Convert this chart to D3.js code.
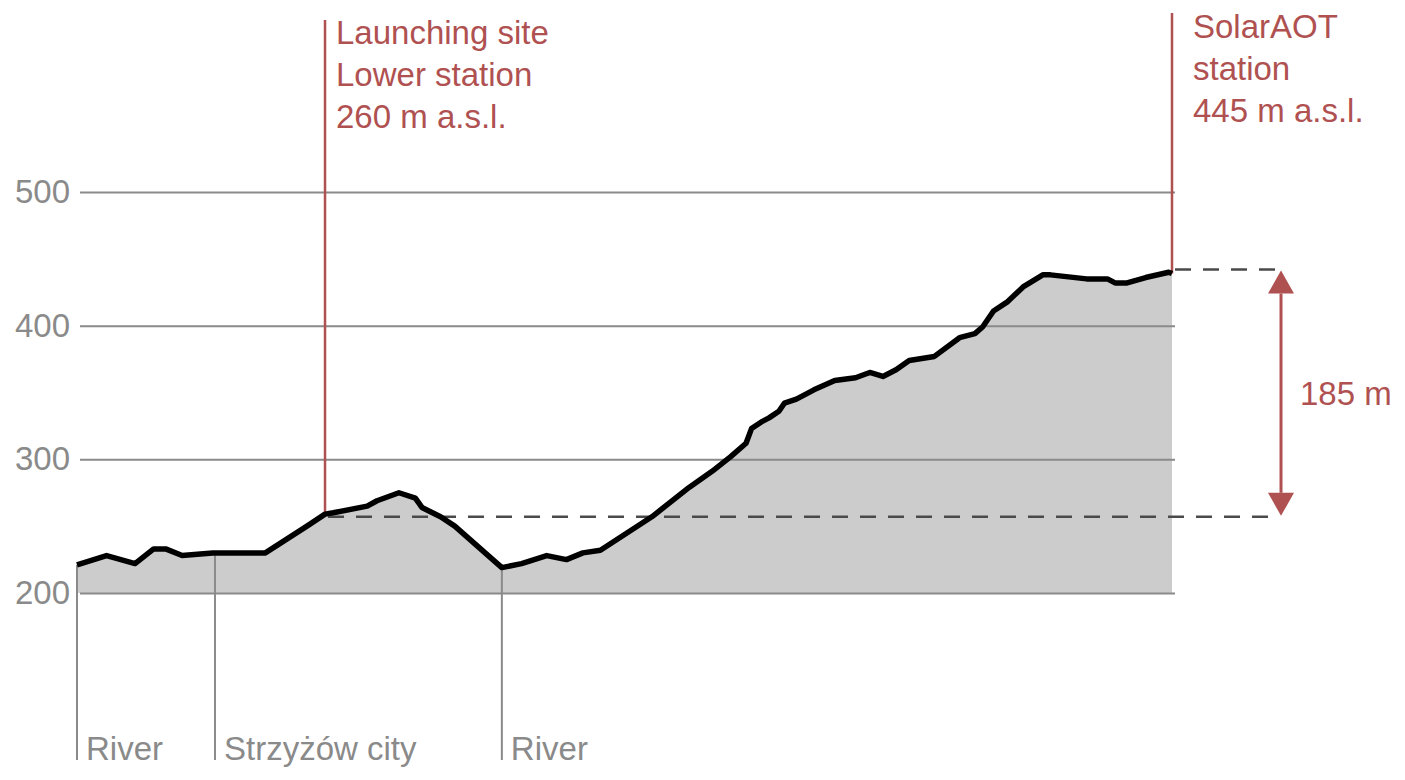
<!DOCTYPE html>
<html>
<head>
<meta charset="utf-8">
<script src="https://cdn.jsdelivr.net/npm/d3@7"></script>
<style>
    body { margin: 0; background: #fff; }
    svg { display: block; font-family: "Liberation Sans", Arial, sans-serif; }
</style>
</head>
<body>
<script>
// distance along the profile (% of path) and elevation (m a.s.l.)
let distance = [0, 2.7, 5.3, 7.0, 8.1, 9.6, 12.4, 17.2, 21.0, 22.65, 23.4, 26.5, 27.4, 29.4, 30.9, 31.5,
                33.2, 34.5, 38.8, 40.6, 42.9, 44.7, 46.2, 47.8, 52.5, 55.9, 58.0, 59.7, 61.1, 61.6, 62.5,
                63.2, 64.1, 64.6, 65.7, 67.3, 69.2, 71.1, 72.4, 73.6, 74.8, 76.0, 78.3, 80.6, 82.0, 82.7,
                83.7, 85.0, 86.4, 88.2, 88.9, 92.2, 94.1, 94.8, 95.9, 97.6, 99.7, 100];
let elevation = [221, 228, 222, 233, 233, 228, 230, 230, 250, 259, 260, 265, 269, 275, 271, 264,
                 257, 250, 219, 222, 228, 225, 230, 232, 257, 279, 291, 302, 312, 323, 328,
                 331, 336, 342, 345, 352, 359, 361, 365, 362, 367, 374, 377, 391, 394, 399,
                 411, 418, 429, 438, 438, 435, 435, 432, 432, 436, 440, 439];

let yTicks = [200, 300, 400, 500];

let places = ["River", "Strzyżów city", "River"];
let placeDistance = [0, 12.6, 38.8];

let launchDistance = 22.65,
    launchLabel = ["Launching site", "Lower station", "260 m a.s.l."],
    solarDistance = 100,
    solarLabel = ["SolarAOT", "station", "445 m a.s.l."];
let lowerRef = 257,
    upperRef = 442,
    diffLabel = "185 m";

let svgContainer,
    svgWidth = 1405,
    svgHeight = 780,
    red = "#b05151",
    gray = "#8a8a8a",
    fontSize = 33;

let xScale = d3.scaleLinear().domain([0, 100]).range([77, 1172]);
let yScale = d3.scaleLinear().domain([200, 500]).range([593, 192]);

function init() {
    svgContainer = d3.select("body").append("svg")
        .attr("width", svgWidth)
        .attr("height", svgHeight);

    let profile = distance.map((d, i) => ({ d: d, e: elevation[i] }));

    drawArea(profile);
    drawGrid();
    drawPlaces(profile);
    drawStations(profile);
    drawLine(profile);
    drawDifference();
}

function drawArea(profile) {
    let area = d3.area()
        .x(p => xScale(p.d))
        .y0(yScale(200))
        .y1(p => yScale(p.e));

    svgContainer.append("path")
        .datum(profile)
        .attr("d", area)
        .style("fill", "#cccccc");
}

function drawGrid() {
    let yAxis = d3.axisLeft(yScale)
        .tickValues(yTicks)
        .tickSize(-1095)
        .tickPadding(10);

    let g = svgContainer.append("g")
        .attr("transform", "translate(80,0)")
        .call(yAxis);

    g.select(".domain").remove();
    g.selectAll(".tick line")
        .style("stroke", gray)
        .style("stroke-width", 2);
    g.selectAll(".tick text")
        .style("fill", gray)
        .style("font-size", fontSize + "px")
        .style("font-family", "'Liberation Sans', Arial, sans-serif");
}

function drawLine(profile) {
    let line = d3.line()
        .x(p => xScale(p.d))
        .y(p => yScale(p.e));

    svgContainer.append("path")
        .datum(profile)
        .attr("d", line)
        .style("fill", "none")
        .style("stroke", "#000")
        .style("stroke-width", 5.5)
        .style("stroke-linejoin", "round");
}

function elevationAt(profile, d) {
    let i = d3.bisector(p => p.d).left(profile, d);
    if (i <= 0) return profile[0].e;
    if (i >= profile.length) return profile[profile.length - 1].e;
    let a = profile[i - 1], b = profile[i];
    return a.e + (b.e - a.e) * (d - a.d) / (b.d - a.d);
}

function drawPlaces(profile) {
    places.forEach((name, i) => {
        let px = xScale(placeDistance[i]);
        svgContainer.append("line")
            .attr("x1", px).attr("x2", px)
            .attr("y1", yScale(elevationAt(profile, placeDistance[i])))
            .attr("y2", 760)
            .style("stroke", gray)
            .style("stroke-width", 2);
        svgContainer.append("text")
            .attr("x", px + 9)
            .attr("y", 760)
            .style("fill", gray)
            .style("font-size", fontSize + "px")
            .text(name);
    });
}

function drawStation(profile, d, top, labelLines, labelLeft, labelTop) {
    let px = xScale(d);
    svgContainer.append("line")
        .attr("x1", px).attr("x2", px)
        .attr("y1", top)
        .attr("y2", yScale(elevationAt(profile, d)))
        .style("stroke", red)
        .style("stroke-width", 2.5);

    labelLines.forEach((t, i) => {
        svgContainer.append("text")
            .attr("x", px + labelLeft)
            .attr("y", labelTop + i * 42)
            .style("fill", red)
            .style("font-size", fontSize + "px")
            .text(t);
    });
}

function drawStations(profile) {
    drawStation(profile, launchDistance, 20, launchLabel, 11, 44);
    drawStation(profile, solarDistance, 13, solarLabel, 21, 38);

    // reference dashed lines
    [[launchDistance, lowerRef], [solarDistance, upperRef]].forEach(r => {
        svgContainer.append("line")
            .attr("x1", xScale(r[0]) + 3)
            .attr("x2", 1279)
            .attr("y1", yScale(r[1]))
            .attr("y2", yScale(r[1]))
            .style("stroke", "#4a4a4a")
            .style("stroke-width", 2.5)
            .style("stroke-dasharray", "16,12");
    });
}

function drawDifference() {
    let ax = 1281,
        yTop = yScale(upperRef) + 1,
        yBottom = yScale(lowerRef) - 1,
        head = 23,
        half = 13;

    svgContainer.append("line")
        .attr("x1", ax).attr("x2", ax)
        .attr("y1", yTop + head).attr("y2", yBottom - head)
        .style("stroke", red)
        .style("stroke-width", 3);

    svgContainer.append("path")
        .attr("d", d3.line()([[ax, yTop], [ax - half, yTop + head], [ax + half, yTop + head]]) + "Z")
        .style("fill", red);
    svgContainer.append("path")
        .attr("d", d3.line()([[ax, yBottom], [ax - half, yBottom - head], [ax + half, yBottom - head]]) + "Z")
        .style("fill", red);

    svgContainer.append("text")
        .attr("x", 1300)
        .attr("y", (yTop + yBottom) / 2 + 12)
        .style("fill", red)
        .style("font-size", fontSize + "px")
        .text(diffLabel);
}

init();
</script>
</body>
</html>
